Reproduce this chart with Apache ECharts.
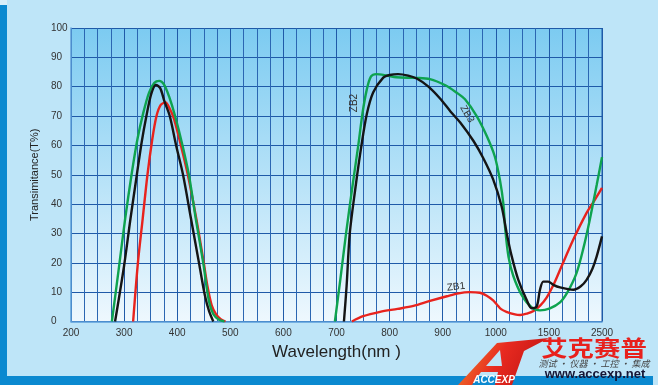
<!DOCTYPE html>
<html>
<head>
<meta charset="utf-8">
<script src="https://cdn.jsdelivr.net/npm/echarts@6/dist/echarts.min.js"></script>
<style>
html,body{margin:0;padding:0;background:#bee5f8;}
#chart{width:658px;height:385px;}
</style>
</head>
<body>
<div id="chart"></div>
<script>
// Axis break points (wavelength, nm) and their tick labels (non-linear axis: each label equally spaced)
const breakWl = [200, 300, 400, 500, 600, 700, 800, 900, 1000, 1500, 2500];
const tickLabels = ['200', '300', '400', '500', '600', '700', '800', '900', '1000', '1500', '2500'];
const yTicks = [0, 10, 20, 30, 40, 50, 60, 70, 80, 90, 100];

// ZB1 (red) [wavelength nm, T%]
const zb1Vis = [[317,0],[326,20],[335,35],[344,50],[353,62],[361,70],[369,73.8],[378,74.6],[386,72.5],[394,69],[407,60],[420,50],[436,35],[450,20],[457,12],[465,5.5],[473,2.5],[482,0.8],[491,0]];
const zb1Nir = [[729,0],[750,1.8],[782,3.3],[815,4.3],[845,5.3],[876,7.0],[908,8.6],[930,9.6],[950,10],[970,9.8],[983,8.8],[995,7.2],[1010,5.8],[1050,4.2],[1100,3.3],[1180,2.4],[1230,2.2],[1300,2.8],[1355,3.6],[1420,5.5],[1480,8.2],[1600,13],[1710,17.6],[1960,27.9],[2210,37],[2350,41],[2500,45.5]];
// ZB2 (green)
const zb2Vis = [[277,0],[290,18],[302,35],[314,50],[325,62],[336,71],[347,78],[357,81.3],[366,82],[375,80.8],[385,76.5],[396,70],[410,60],[422,50],[435,35],[449,20],[456,11],[461,6],[468,2.5],[478,0.7],[489,0]];
const zb2Nir = [[697,0],[707,14],[718,30],[730,46],[741,60],[749,71],[757,79],[765,83.5],[775,84.3],[795,83.8],[813,83.2],[850,83],[876,82.6],[905,80.5],[926,78],[942,75.7],[964,70],[983,63.2],[998,56.3],[1040,48],[1070,40.5],[1090,31],[1120,22],[1165,15.5],[1244,9],[1338,4.8],[1416,3.8],[1520,4.5],[1709,6.5],[1850,10],[2020,16.5],[2150,25],[2270,34.7],[2400,46.5],[2500,56]];
// ZB3 (black)
const zb3Vis = [[283,0],[300,19],[312,35],[324,50],[333,61],[342,70],[351,77.5],[360,80.6],[368,79.5],[376,75],[386,70],[398,60],[411,50],[426,35],[442,19],[452,9],[460,3.5],[468,0]];
const zb3Nir = [[714,0],[719,12],[725,30],[736,46],[747,60],[757,70.6],[769,78],[788,83.1],[800,84],[816,84.3],[835,83.8],[851,82.8],[872,80.2],[895,76],[915,71.5],[933,67.8],[958,61.5],[976,55.8],[995,48.4],[1055,39.2],[1102,30.2],[1150,22.2],[1212,14.2],[1291,7.3],[1338,4.5],[1385,5.1],[1416,10.8],[1447,13.6],[1494,13.6],[1583,12.5],[1710,11.6],[1960,10.8],[2100,12],[2210,14.2],[2320,18],[2400,22.2],[2500,29]];

function pos(wl) {
  for (let i = 0; i < breakWl.length - 1; i++) {
    if (wl <= breakWl[i + 1]) return i + (wl - breakWl[i]) / (breakWl[i + 1] - breakWl[i]);
  }
  return breakWl.length - 1;
}
function conv(arr) { return arr.map(d => [pos(d[0]), d[1]]); }

const chart = echarts.init(document.getElementById('chart'), null, {renderer: 'canvas'});
const FONT = 'Liberation Sans, Arial, sans-serif';

function line(data, color) {
  return {
    type: 'line', data: conv(data), showSymbol: false, symbol: 'none',
    smooth: 0.3,
    lineStyle: {color: color, width: 2.4}, itemStyle: {color: color},
    silent: true, animation: false, z: 3
  };
}

const option = {
  animation: false,
  backgroundColor: '#bee5f8',
  grid: {
    left: 71, right: 56, top: 28, bottom: 63.5,
    show: true, borderWidth: 0,
    backgroundColor: new echarts.graphic.LinearGradient(0, 0, 0, 1, [
      {offset: 0, color: '#7ccbf1'},
      {offset: 1, color: '#eef8fe'}
    ])
  },
  xAxis: {
    type: 'value', min: 0, max: breakWl.length - 1, interval: 1,
    axisLine: {show: true, lineStyle: {color: '#5c9fda', width: 1.5}},
    axisTick: {show: false},
    minorTick: {show: false, splitNumber: 4},
    splitLine: {show: true, lineStyle: {color: '#1f5aa8', width: 1}},
    minorSplitLine: {show: true, lineStyle: {color: '#2b66b2', width: 1}},
    axisLabel: {
      color: '#333', fontSize: 10, fontFamily: FONT, margin: 7,
      formatter: v => tickLabels[Math.round(v)] || ''
    },
    name: 'Wavelength(nm )', nameLocation: 'middle', nameGap: 20,
    nameTextStyle: {color: '#222', fontSize: 17, fontFamily: FONT}
  },
  yAxis: {
    type: 'value', min: 0, max: 100, interval: 10,
    axisLine: {show: true, lineStyle: {color: '#5c9fda', width: 1.5}},
    axisTick: {show: false},
    splitLine: {show: true, lineStyle: {color: '#1f5aa8', width: 1}},
    axisLabel: {color: '#333', fontSize: 10, fontFamily: FONT, margin: 20, align: 'left',
      formatter: v => String(yTicks[Math.round(v / 10)])},
    name: 'Transimitance(T%)', nameLocation: 'middle', nameGap: 26, nameRotate: 90,
    nameTextStyle: {color: '#222', fontSize: 11, fontFamily: FONT}
  },
  series: [
    line(zb1Vis, '#e8231d'),
    line(zb1Nir, '#e8231d'),
    line(zb2Vis, '#0ea34f'),
    line(zb2Nir, '#0ea34f'),
    line(zb3Vis, '#151515'),
    line(zb3Nir, '#151515'),
    {type: 'line', data: [[10, 0], [10, 100]], symbol: 'none', lineStyle: {color: '#1f5aa8', width: 1}, silent: true, z: 2}
  ],
  graphic: [
    {type: 'rect', shape: {x: 0, y: 0, width: 7, height: 385}, style: {fill: '#0b89d0'}, z: 10},
    {type: 'rect', shape: {x: 0, y: 0, width: 7, height: 5}, style: {fill: '#d8eef9'}, z: 11},
    {type: 'rect', shape: {x: 0, y: 376, width: 653, height: 9}, style: {fill: '#0b89d0'}, z: 10},
    {type: 'text', x: 354, y: 103, rotation: Math.PI / 2,
      style: {text: 'ZB2', align: 'center', verticalAlign: 'middle', fill: '#333', font: '10px ' + FONT}, z: 12},
    {type: 'text', x: 467, y: 114, rotation: -1.05,
      style: {text: 'ZB3', align: 'center', verticalAlign: 'middle', fill: '#333', font: '10px ' + FONT}, z: 12},
    {type: 'text', x: 456, y: 287, rotation: 0.12,
      style: {text: 'ZB1', align: 'center', verticalAlign: 'middle', fill: '#333', font: '10px ' + FONT}, z: 12},
    // logo
    {type: 'polygon', shape: {points: [[458,385],[497,343],[549,338],[524,351],[512,385],[495,385],[498,372],[481,372],[472,385]]},
      style: {fill: new echarts.graphic.LinearGradient(0, 0, 1, 1, [{offset: 0, color: '#f08a2a'}, {offset: 0.45, color: '#e82a20'}, {offset: 1, color: '#b81010'}])}, z: 12},
    {type: 'polygon', shape: {points: [[486,366],[500,350],[502,366]]}, style: {fill: '#bee5f8'}, z: 13},
    {type: 'text', x: 494, y: 380, style: {text: 'ACCEXP', align: 'center', verticalAlign: 'middle', fill: '#ffffff', font: 'italic bold 10px ' + FONT}, z: 14},
    {type: 'text', x: 594, y: 348, scaleX: 1.2,
      style: {text: '艾克赛普', align: 'center', verticalAlign: 'middle', fill: '#e8201c', font: 'bold 22px "Noto Sans CJK SC"'}, z: 12},
    {type: 'text', x: 594, y: 364,
      style: {text: '测试 · 仪器 · 工控 · 集成', align: 'center', verticalAlign: 'middle', fill: '#444', font: 'italic 9px "Noto Sans CJK SC"'}, z: 12},
    {type: 'text', x: 595, y: 374,
      style: {text: 'www.accexp.net', align: 'center', verticalAlign: 'middle', fill: '#151535', font: 'bold 13px ' + FONT}, z: 12}
  ]
};
chart.setOption(option);
</script>
</body>
</html>
